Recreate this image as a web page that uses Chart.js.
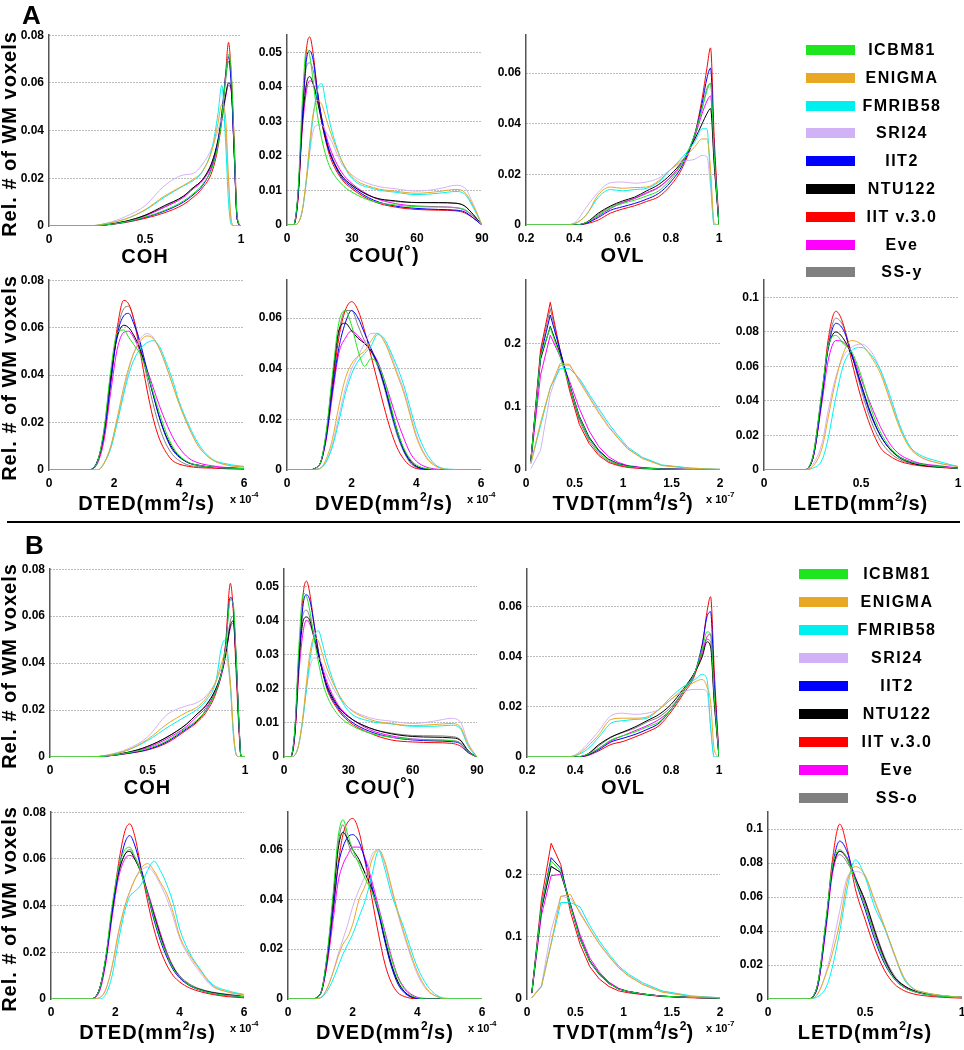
<!DOCTYPE html>
<html>
<head>
<meta charset="utf-8">
<script src="https://cdn.jsdelivr.net/npm/chart.js@4.4.1/dist/chart.umd.min.js"></script>
<style>
  body { margin: 0; background: #fff; }
  #fig { position: relative; width: 964px; height: 1050px; overflow: hidden; background: #fff;
         font-family: "Liberation Sans", Arial, sans-serif; color: #000; }
  #fig canvas { position: absolute; }
  .lbl { position: absolute; font-weight: bold; white-space: nowrap; }
  .xt { font-size: 20px; line-height: 24px; text-align: center; letter-spacing: 1px; }
  .xt sup { font-size: 12px; vertical-align: baseline; position: relative; top: -9px; letter-spacing: 0; }
  .yt { font-size: 20px; line-height: 24px; width: 220px; text-align: center; letter-spacing: 1px; transform: rotate(-90deg); }
  .ex { font-size: 11px; line-height: 14px; }
  .ex sup { font-size: 8px; vertical-align: baseline; position: relative; top: -6px; }
  .sec { font-size: 26px; line-height: 30px; }
  .lg { font-size: 16px; line-height: 20px; letter-spacing: 1.5px; width: 120px; text-align: center; }
  .sw { position: absolute; width: 49px; height: 10px; }
</style>
</head>
<body>
<div id="fig"></div>
<script>
// series order used by every y table below
const seriesA = ["ICBM81", "ENIGMA", "FMRIB58", "SRI24", "IIT2", "NTU122", "IIT v.3.0", "Eve", "SS-y"];
const seriesB = ["ICBM81", "ENIGMA", "FMRIB58", "SRI24", "IIT2", "NTU122", "IIT v.3.0", "Eve", "SS-o"];
const colors = ["#1ee61e", "#e8a824", "#00f0f0", "#d2b2f6", "#0000ff", "#000000", "#ff0000", "#ff00ff", "#808080"];

// tick labels
const cohTicks = [0, 0.5, 1];
const couTicks = [0, 30, 60, 90];
const ovlTicks = [0.2, 0.4, 0.6, 0.8, 1];
const dTicks = [0, 2, 4, 6];
const tvdtTicks = [0, 0.5, 1, 1.5, 2];
const letdTicks = [0, 0.5, 1];
const y08 = [0, 0.02, 0.04, 0.06, 0.08];
const y05 = [0, 0.01, 0.02, 0.03, 0.04, 0.05];
const y06 = [0, 0.02, 0.04, 0.06];
const y02 = [0, 0.1, 0.2];
const y10 = [0, 0.02, 0.04, 0.06, 0.08, 0.1];

// ---- A ----
const cohA_x = [0, 0.2, 0.3, 0.4, 0.5, 0.6, 0.7, 0.75, 0.8, 0.85, 0.88, 0.9, 0.92, 0.935, 0.95, 0.965, 0.98, 1];
const cohA_y = [
  [0, 0, 0.0005, 0.0017, 0.0038, 0.0065, 0.0105, 0.0135, 0.0175, 0.0245, 0.034, 0.045, 0.062, 0.072, 0.064, 0.033, 0.004, 0],
  [0, 0, 0.001, 0.003, 0.0068, 0.0125, 0.017, 0.0195, 0.023, 0.032, 0.043, 0.051, 0.045, 0.02, 0.002, 0, 0, 0],
  [0, 0, 0.001, 0.003, 0.0066, 0.012, 0.0168, 0.019, 0.023, 0.033, 0.047, 0.059, 0.035, 0.01, 0.0005, 0, 0, 0],
  [0, 0, 0.0012, 0.004, 0.0085, 0.0168, 0.0214, 0.022, 0.026, 0.033, 0.04, 0.045, 0.04, 0.018, 0.002, 0, 0, 0],
  [0, 0, 0.0005, 0.0017, 0.0036, 0.0062, 0.01, 0.013, 0.017, 0.025, 0.035, 0.047, 0.063, 0.071, 0.058, 0.03, 0.003, 0],
  [0, 0, 0.0006, 0.002, 0.0045, 0.0085, 0.0125, 0.016, 0.0195, 0.027, 0.036, 0.045, 0.055, 0.06, 0.057, 0.03, 0.003, 0],
  [0, 0, 0.0005, 0.0015, 0.0032, 0.0055, 0.009, 0.012, 0.016, 0.023, 0.033, 0.045, 0.064, 0.077, 0.062, 0.035, 0.004, 0],
  [0, 0, 0.0005, 0.0018, 0.0042, 0.0078, 0.012, 0.0155, 0.019, 0.026, 0.035, 0.044, 0.054, 0.059, 0.056, 0.03, 0.003, 0],
  [0, 0, 0.0006, 0.002, 0.0045, 0.008, 0.0125, 0.016, 0.0195, 0.027, 0.036, 0.047, 0.061, 0.069, 0.06, 0.03, 0.003, 0]
];
const couA_x = [0, 3, 5, 7, 9, 10.5, 12, 14, 16, 18, 20, 25, 30, 40, 50, 60, 70, 78, 82, 86, 90];
const couA_y = [
  [0, 0, 0.009, 0.035, 0.051, 0.049, 0.042, 0.032, 0.025, 0.02, 0.0165, 0.012, 0.0095, 0.0068, 0.0058, 0.0053, 0.0052, 0.005, 0.0045, 0.0025, 0],
  [0, 0, 0.0005, 0.004, 0.014, 0.024, 0.032, 0.036, 0.035, 0.031, 0.027, 0.019, 0.014, 0.0108, 0.0098, 0.0092, 0.0097, 0.0103, 0.0095, 0.0055, 0],
  [0, 0, 0.0005, 0.004, 0.013, 0.022, 0.031, 0.039, 0.041, 0.035, 0.029, 0.019, 0.0135, 0.0105, 0.0095, 0.0088, 0.0092, 0.0097, 0.009, 0.005, 0],
  [0, 0, 0.0005, 0.004, 0.013, 0.021, 0.027, 0.029, 0.029, 0.027, 0.025, 0.018, 0.0145, 0.0115, 0.0105, 0.0098, 0.0105, 0.0115, 0.0108, 0.006, 0],
  [0, 0, 0.008, 0.031, 0.048, 0.0505, 0.048, 0.039, 0.031, 0.025, 0.0205, 0.014, 0.011, 0.0072, 0.0055, 0.0048, 0.0045, 0.0043, 0.0038, 0.002, 0],
  [0, 0, 0.008, 0.029, 0.041, 0.043, 0.041, 0.036, 0.03, 0.0245, 0.0205, 0.0145, 0.0115, 0.008, 0.007, 0.0065, 0.0065, 0.0063, 0.0055, 0.003, 0],
  [0, 0, 0.007, 0.03, 0.051, 0.0545, 0.05, 0.039, 0.03, 0.024, 0.0195, 0.0135, 0.0105, 0.0068, 0.0052, 0.0045, 0.0043, 0.0041, 0.0035, 0.002, 0],
  [0, 0, 0.007, 0.027, 0.039, 0.0418, 0.041, 0.037, 0.031, 0.026, 0.022, 0.0155, 0.012, 0.008, 0.0062, 0.0055, 0.0053, 0.005, 0.0043, 0.0025, 0],
  [0, 0, 0.008, 0.03, 0.046, 0.047, 0.045, 0.038, 0.031, 0.025, 0.021, 0.0145, 0.0115, 0.008, 0.0068, 0.0065, 0.0064, 0.0063, 0.0055, 0.003, 0]
];
const ovlA_x = [0.2, 0.35, 0.4, 0.45, 0.5, 0.55, 0.6, 0.65, 0.7, 0.75, 0.8, 0.85, 0.9, 0.93, 0.95, 0.965, 0.98, 1];
const ovlA_y = [
  [0, 0, 0, 0.001, 0.0038, 0.0068, 0.0085, 0.0098, 0.0115, 0.0135, 0.018, 0.025, 0.036, 0.046, 0.053, 0.056, 0.028, 0],
  [0, 0, 0.0005, 0.004, 0.012, 0.015, 0.0145, 0.0148, 0.015, 0.0175, 0.022, 0.026, 0.031, 0.034, 0.034, 0.022, 0.001, 0],
  [0, 0, 0.0005, 0.004, 0.011, 0.014, 0.0135, 0.014, 0.0145, 0.017, 0.022, 0.027, 0.033, 0.038, 0.038, 0.018, 0, 0],
  [0, 0, 0.0008, 0.007, 0.013, 0.0167, 0.017, 0.0165, 0.017, 0.0185, 0.022, 0.025, 0.026, 0.0275, 0.027, 0.015, 0, 0],
  [0, 0, 0, 0.0007, 0.003, 0.0058, 0.0072, 0.0085, 0.0102, 0.0125, 0.017, 0.024, 0.036, 0.048, 0.058, 0.062, 0.03, 0],
  [0, 0, 0, 0.001, 0.0047, 0.0075, 0.0095, 0.011, 0.0135, 0.016, 0.02, 0.0255, 0.034, 0.04, 0.044, 0.046, 0.024, 0],
  [0, 0, 0, 0.0005, 0.002, 0.0047, 0.0063, 0.0076, 0.0093, 0.0112, 0.0157, 0.023, 0.036, 0.05, 0.062, 0.07, 0.035, 0],
  [0, 0, 0, 0.0008, 0.0035, 0.0065, 0.0088, 0.0105, 0.0128, 0.015, 0.019, 0.025, 0.035, 0.044, 0.049, 0.051, 0.026, 0],
  [0, 0, 0, 0.001, 0.0042, 0.0072, 0.009, 0.0105, 0.0125, 0.0148, 0.019, 0.025, 0.036, 0.046, 0.054, 0.056, 0.028, 0]
];
const dtedA_x = [0, 1.2, 1.5, 1.7, 1.9, 2.1, 2.3, 2.45, 2.6, 2.8, 3.0, 3.2, 3.4, 3.6, 3.8, 4.0, 4.3, 4.6, 5.0, 5.5, 6.0];
const dtedA_y = [
  [0, 0, 0.004, 0.018, 0.042, 0.058, 0.059, 0.056, 0.053, 0.049, 0.042, 0.033, 0.024, 0.016, 0.01, 0.0062, 0.0032, 0.002, 0.0012, 0.0008, 0.0006],
  [0, 0, 0, 0.003, 0.01, 0.022, 0.035, 0.043, 0.049, 0.054, 0.0565, 0.0555, 0.051, 0.044, 0.036, 0.028, 0.018, 0.01, 0.0045, 0.002, 0.0012],
  [0, 0, 0, 0.003, 0.009, 0.02, 0.032, 0.04, 0.046, 0.051, 0.0535, 0.0545, 0.052, 0.0455, 0.038, 0.029, 0.019, 0.011, 0.0048, 0.0025, 0.0015],
  [0, 0, 0, 0.003, 0.01, 0.021, 0.033, 0.042, 0.049, 0.055, 0.0575, 0.056, 0.051, 0.044, 0.036, 0.028, 0.018, 0.01, 0.0045, 0.002, 0.0012],
  [0, 0, 0.004, 0.016, 0.037, 0.057, 0.065, 0.066, 0.062, 0.054, 0.043, 0.032, 0.022, 0.014, 0.0085, 0.0055, 0.003, 0.002, 0.0012, 0.0008, 0.0006],
  [0, 0, 0.004, 0.017, 0.04, 0.056, 0.061, 0.06, 0.057, 0.051, 0.042, 0.032, 0.022, 0.0145, 0.0092, 0.0058, 0.003, 0.002, 0.0012, 0.0008, 0.0006],
  [0, 0, 0.004, 0.015, 0.038, 0.06, 0.0715, 0.07, 0.064, 0.05, 0.035, 0.022, 0.013, 0.0075, 0.004, 0.0025, 0.0015, 0.001, 0.0008, 0.0005, 0.0003],
  [0, 0, 0.003, 0.013, 0.033, 0.051, 0.058, 0.0585, 0.056, 0.05, 0.043, 0.035, 0.027, 0.02, 0.014, 0.0095, 0.005, 0.003, 0.0018, 0.001, 0.0006],
  [0, 0, 0.004, 0.015, 0.037, 0.058, 0.068, 0.069, 0.064, 0.053, 0.04, 0.028, 0.018, 0.011, 0.0065, 0.004, 0.002, 0.0015, 0.001, 0.0008, 0.0005]
];
const dvedA_x = [0, 0.6, 1.0, 1.2, 1.4, 1.6, 1.8, 2.0, 2.2, 2.4, 2.6, 2.8, 3.0, 3.2, 3.4, 3.6, 3.8, 4.0, 4.3, 4.6, 5.0, 6.0];
const dvedA_y = [
  [0, 0, 0.002, 0.014, 0.037, 0.058, 0.063, 0.057, 0.047, 0.041, 0.044, 0.042, 0.036, 0.026, 0.016, 0.009, 0.0045, 0.002, 0.0006, 0.0002, 0, 0],
  [0, 0, 0.0005, 0.004, 0.012, 0.025, 0.036, 0.042, 0.045, 0.047, 0.051, 0.054, 0.051, 0.045, 0.038, 0.031, 0.022, 0.013, 0.005, 0.0015, 0.0002, 0],
  [0, 0, 0.0005, 0.003, 0.009, 0.019, 0.03, 0.038, 0.043, 0.046, 0.049, 0.0535, 0.052, 0.047, 0.041, 0.034, 0.025, 0.016, 0.007, 0.002, 0.0003, 0],
  [0, 0, 0.0005, 0.003, 0.01, 0.021, 0.032, 0.04, 0.045, 0.05, 0.054, 0.054, 0.051, 0.046, 0.039, 0.032, 0.023, 0.014, 0.0055, 0.0018, 0.0003, 0],
  [0, 0, 0.002, 0.012, 0.031, 0.048, 0.058, 0.063, 0.06, 0.054, 0.048, 0.042, 0.034, 0.024, 0.015, 0.008, 0.0035, 0.0013, 0.0003, 0, 0, 0],
  [0, 0, 0.002, 0.013, 0.035, 0.055, 0.058, 0.055, 0.052, 0.05, 0.047, 0.042, 0.034, 0.025, 0.016, 0.0085, 0.004, 0.0015, 0.0004, 0, 0, 0],
  [0, 0, 0.002, 0.012, 0.032, 0.052, 0.063, 0.0665, 0.063, 0.055, 0.045, 0.035, 0.025, 0.016, 0.009, 0.0045, 0.0018, 0.0006, 0.0002, 0, 0, 0],
  [0, 0, 0.002, 0.011, 0.029, 0.046, 0.052, 0.055, 0.053, 0.05, 0.047, 0.043, 0.036, 0.028, 0.02, 0.013, 0.007, 0.0035, 0.0012, 0.0004, 0, 0],
  [0, 0, 0.002, 0.013, 0.034, 0.054, 0.063, 0.063, 0.057, 0.051, 0.047, 0.041, 0.033, 0.023, 0.014, 0.0075, 0.003, 0.001, 0.0003, 0, 0, 0]
];
const tvdtA_x = [0.05, 0.15, 0.25, 0.35, 0.45, 0.55, 0.65, 0.75, 0.85, 0.95, 1.05, 1.2, 1.4, 1.7, 2.0];
const tvdtA_y = [
  [0.015, 0.18, 0.225, 0.18, 0.132, 0.083, 0.05, 0.029, 0.016, 0.009, 0.0055, 0.003, 0.0015, 0.0008, 0.0003],
  [0.01, 0.075, 0.13, 0.168, 0.167, 0.14, 0.115, 0.09, 0.068, 0.05, 0.033, 0.018, 0.007, 0.0025, 0.001],
  [0.01, 0.07, 0.13, 0.16, 0.16, 0.145, 0.12, 0.097, 0.074, 0.054, 0.036, 0.02, 0.008, 0.003, 0.001],
  [0.002, 0.031, 0.12, 0.165, 0.165, 0.143, 0.117, 0.093, 0.07, 0.051, 0.034, 0.019, 0.0075, 0.003, 0.001],
  [0.015, 0.18, 0.245, 0.19, 0.133, 0.082, 0.05, 0.03, 0.017, 0.009, 0.006, 0.003, 0.0015, 0.0008, 0.0003],
  [0.015, 0.175, 0.227, 0.185, 0.134, 0.085, 0.052, 0.031, 0.017, 0.01, 0.006, 0.003, 0.0015, 0.0008, 0.0003],
  [0.015, 0.19, 0.265, 0.19, 0.125, 0.072, 0.042, 0.023, 0.012, 0.007, 0.004, 0.002, 0.001, 0.0005, 0],
  [0.012, 0.15, 0.213, 0.18, 0.14, 0.097, 0.062, 0.037, 0.021, 0.012, 0.007, 0.004, 0.002, 0.001, 0.0003],
  [0.015, 0.185, 0.255, 0.19, 0.13, 0.078, 0.046, 0.026, 0.014, 0.008, 0.005, 0.003, 0.0015, 0.0008, 0.0003]
];
const letdA_x = [0, 0.2, 0.25, 0.3, 0.33, 0.37, 0.41, 0.45, 0.5, 0.55, 0.6, 0.65, 0.7, 0.75, 0.8, 0.9, 1.0];
const letdA_y = [
  [0, 0, 0.007, 0.047, 0.071, 0.078, 0.073, 0.069, 0.055, 0.036, 0.022, 0.013, 0.0075, 0.005, 0.0035, 0.002, 0.001],
  [0, 0, 0.002, 0.013, 0.03, 0.052, 0.068, 0.075, 0.073, 0.066, 0.056, 0.04, 0.024, 0.013, 0.008, 0.004, 0.002],
  [0, 0, 0.001, 0.006, 0.018, 0.042, 0.061, 0.069, 0.071, 0.067, 0.058, 0.043, 0.026, 0.014, 0.009, 0.005, 0.002],
  [0, 0, 0.003, 0.016, 0.034, 0.054, 0.066, 0.071, 0.073, 0.069, 0.058, 0.041, 0.025, 0.014, 0.008, 0.004, 0.002],
  [0, 0, 0.006, 0.043, 0.07, 0.085, 0.081, 0.068, 0.049, 0.032, 0.02, 0.012, 0.0075, 0.005, 0.0035, 0.002, 0.001],
  [0, 0, 0.007, 0.046, 0.07, 0.08, 0.076, 0.067, 0.05, 0.033, 0.02, 0.012, 0.007, 0.0045, 0.003, 0.0018, 0.001],
  [0, 0, 0.006, 0.044, 0.075, 0.092, 0.084, 0.064, 0.042, 0.025, 0.013, 0.008, 0.005, 0.0035, 0.0025, 0.0015, 0.0008],
  [0, 0, 0.006, 0.04, 0.063, 0.075, 0.074, 0.068, 0.053, 0.038, 0.025, 0.015, 0.009, 0.006, 0.004, 0.0025, 0.0012],
  [0, 0, 0.006, 0.044, 0.072, 0.088, 0.083, 0.068, 0.047, 0.029, 0.017, 0.01, 0.006, 0.004, 0.003, 0.0018, 0.001]
];

// ---- B ----
const cohB_x = [0, 0.2, 0.3, 0.4, 0.5, 0.6, 0.7, 0.75, 0.8, 0.85, 0.88, 0.9, 0.925, 0.94, 0.955, 0.97, 0.98, 1];
const cohB_y = [
  [0, 0, 0.0005, 0.0018, 0.0036, 0.007, 0.0125, 0.0155, 0.02, 0.028, 0.036, 0.046, 0.067, 0.065, 0.042, 0.013, 0, 0],
  [0, 0, 0.0008, 0.003, 0.0075, 0.014, 0.019, 0.021, 0.025, 0.032, 0.04, 0.045, 0.032, 0.012, 0.001, 0, 0, 0],
  [0, 0, 0.0008, 0.003, 0.007, 0.0125, 0.0175, 0.02, 0.024, 0.032, 0.047, 0.05, 0.03, 0.01, 0.001, 0, 0, 0],
  [0, 0, 0.001, 0.0035, 0.0085, 0.018, 0.0218, 0.023, 0.026, 0.032, 0.038, 0.042, 0.03, 0.01, 0.001, 0, 0, 0],
  [0, 0, 0.0005, 0.0016, 0.0032, 0.0065, 0.012, 0.015, 0.02, 0.028, 0.036, 0.047, 0.068, 0.064, 0.04, 0.012, 0, 0],
  [0, 0, 0.0006, 0.002, 0.0045, 0.0085, 0.014, 0.018, 0.022, 0.029, 0.036, 0.043, 0.056, 0.058, 0.04, 0.012, 0, 0],
  [0, 0, 0.0005, 0.0015, 0.003, 0.006, 0.0115, 0.0145, 0.019, 0.027, 0.036, 0.048, 0.074, 0.062, 0.035, 0.01, 0, 0],
  [0, 0, 0.0005, 0.0018, 0.004, 0.0078, 0.013, 0.017, 0.021, 0.028, 0.035, 0.043, 0.055, 0.057, 0.04, 0.012, 0, 0],
  [0, 0, 0.0006, 0.002, 0.0045, 0.0085, 0.014, 0.018, 0.022, 0.029, 0.036, 0.044, 0.058, 0.06, 0.042, 0.013, 0, 0]
];
const couB_x = [0, 3, 5, 7, 9, 10.5, 12, 14, 16, 18, 20, 25, 30, 40, 50, 60, 70, 78, 82, 86, 90];
const couB_y = [
  [0, 0, 0.008, 0.033, 0.048, 0.047, 0.043, 0.035, 0.028, 0.022, 0.018, 0.0125, 0.0098, 0.007, 0.0058, 0.0052, 0.005, 0.0048, 0.0042, 0.0015, 0],
  [0, 0, 0.0005, 0.004, 0.013, 0.022, 0.03, 0.035, 0.034, 0.03, 0.026, 0.019, 0.0145, 0.011, 0.0098, 0.0092, 0.0095, 0.0098, 0.009, 0.0035, 0],
  [0, 0, 0.0005, 0.004, 0.012, 0.02, 0.028, 0.035, 0.037, 0.033, 0.028, 0.019, 0.0135, 0.0105, 0.0097, 0.009, 0.009, 0.0093, 0.0085, 0.003, 0],
  [0, 0, 0.0005, 0.004, 0.012, 0.02, 0.026, 0.029, 0.029, 0.027, 0.024, 0.018, 0.0145, 0.0115, 0.0105, 0.0098, 0.0105, 0.0113, 0.0105, 0.004, 0],
  [0, 0, 0.007, 0.03, 0.045, 0.0475, 0.046, 0.039, 0.031, 0.025, 0.0205, 0.0145, 0.011, 0.0075, 0.0058, 0.005, 0.0047, 0.0045, 0.004, 0.0014, 0],
  [0, 0, 0.007, 0.028, 0.04, 0.041, 0.04, 0.035, 0.03, 0.025, 0.021, 0.015, 0.0118, 0.0085, 0.0068, 0.006, 0.0058, 0.0056, 0.005, 0.0017, 0],
  [0, 0, 0.006, 0.028, 0.048, 0.0515, 0.048, 0.039, 0.031, 0.025, 0.02, 0.014, 0.0105, 0.007, 0.005, 0.0044, 0.0042, 0.004, 0.0033, 0.0012, 0],
  [0, 0, 0.006, 0.025, 0.037, 0.04, 0.039, 0.035, 0.03, 0.026, 0.022, 0.0155, 0.012, 0.008, 0.0062, 0.0053, 0.005, 0.0048, 0.0042, 0.0015, 0],
  [0, 0, 0.007, 0.03, 0.042, 0.043, 0.041, 0.036, 0.03, 0.025, 0.021, 0.015, 0.0118, 0.0085, 0.007, 0.0063, 0.0062, 0.006, 0.0052, 0.0018, 0]
];
const ovlB_x = [0.2, 0.35, 0.4, 0.45, 0.5, 0.55, 0.6, 0.65, 0.7, 0.75, 0.8, 0.85, 0.9, 0.93, 0.95, 0.965, 0.98, 1];
const ovlB_y = [
  [0, 0, 0, 0.001, 0.0035, 0.0068, 0.0085, 0.01, 0.012, 0.014, 0.019, 0.026, 0.034, 0.043, 0.05, 0.049, 0.025, 0],
  [0, 0, 0.0005, 0.004, 0.009, 0.015, 0.0155, 0.0155, 0.016, 0.019, 0.023, 0.027, 0.03, 0.031, 0.028, 0.022, 0.003, 0],
  [0, 0, 0.0005, 0.003, 0.008, 0.0135, 0.0145, 0.015, 0.0155, 0.019, 0.024, 0.028, 0.031, 0.033, 0.031, 0.012, 0, 0],
  [0, 0, 0.0008, 0.005, 0.0105, 0.0165, 0.0175, 0.017, 0.0175, 0.019, 0.023, 0.026, 0.027, 0.027, 0.026, 0.012, 0, 0],
  [0, 0, 0, 0.0007, 0.003, 0.006, 0.0075, 0.009, 0.011, 0.0135, 0.019, 0.026, 0.034, 0.045, 0.056, 0.058, 0.03, 0],
  [0, 0, 0, 0.001, 0.005, 0.008, 0.01, 0.012, 0.0145, 0.017, 0.021, 0.027, 0.034, 0.04, 0.046, 0.044, 0.022, 0],
  [0, 0, 0, 0.0005, 0.0025, 0.005, 0.0062, 0.008, 0.01, 0.0125, 0.018, 0.025, 0.033, 0.044, 0.058, 0.064, 0.035, 0],
  [0, 0, 0, 0.0008, 0.0035, 0.0065, 0.0085, 0.0105, 0.0125, 0.015, 0.019, 0.026, 0.034, 0.042, 0.048, 0.049, 0.025, 0],
  [0, 0, 0, 0.001, 0.0045, 0.0078, 0.0098, 0.0115, 0.014, 0.016, 0.02, 0.026, 0.034, 0.041, 0.047, 0.046, 0.023, 0]
];
const dtedB_x = [0, 1.2, 1.5, 1.7, 1.9, 2.1, 2.3, 2.45, 2.6, 2.8, 3.0, 3.2, 3.4, 3.6, 3.8, 4.0, 4.3, 4.6, 5.0, 5.5, 6.0];
const dtedB_y = [
  [0, 0, 0.004, 0.018, 0.04, 0.056, 0.064, 0.065, 0.061, 0.054, 0.045, 0.035, 0.026, 0.019, 0.013, 0.0095, 0.006, 0.004, 0.0025, 0.0015, 0.001],
  [0, 0, 0.0005, 0.004, 0.014, 0.029, 0.04, 0.046, 0.051, 0.056, 0.058, 0.055, 0.05, 0.045, 0.037, 0.027, 0.019, 0.013, 0.006, 0.003, 0.0018],
  [0, 0, 0, 0.002, 0.01, 0.025, 0.038, 0.044, 0.046, 0.049, 0.055, 0.059, 0.055, 0.049, 0.041, 0.03, 0.02, 0.0135, 0.0065, 0.0035, 0.002],
  [0, 0, 0.0005, 0.004, 0.014, 0.028, 0.04, 0.046, 0.051, 0.055, 0.0566, 0.054, 0.049, 0.043, 0.035, 0.026, 0.018, 0.012, 0.0055, 0.003, 0.0015],
  [0, 0, 0.004, 0.017, 0.037, 0.055, 0.067, 0.07, 0.066, 0.056, 0.045, 0.034, 0.025, 0.018, 0.0125, 0.009, 0.0058, 0.004, 0.0025, 0.0015, 0.001],
  [0, 0, 0.004, 0.017, 0.038, 0.054, 0.062, 0.0632, 0.06, 0.054, 0.045, 0.036, 0.027, 0.019, 0.0135, 0.0095, 0.006, 0.0042, 0.0028, 0.0018, 0.001],
  [0, 0, 0.004, 0.017, 0.038, 0.058, 0.072, 0.075, 0.07, 0.056, 0.042, 0.03, 0.021, 0.0145, 0.01, 0.0073, 0.0048, 0.0033, 0.002, 0.001, 0.0005],
  [0, 0, 0.003, 0.015, 0.035, 0.052, 0.06, 0.0615, 0.06, 0.054, 0.046, 0.037, 0.028, 0.02, 0.0135, 0.0095, 0.006, 0.004, 0.0025, 0.0015, 0.001],
  [0, 0, 0.004, 0.017, 0.038, 0.054, 0.062, 0.064, 0.061, 0.055, 0.046, 0.037, 0.028, 0.02, 0.014, 0.01, 0.0065, 0.0045, 0.003, 0.002, 0.0012]
];
const dvedB_x = [0, 0.7, 1.0, 1.2, 1.4, 1.55, 1.7, 1.85, 2.0, 2.2, 2.4, 2.6, 2.8, 3.0, 3.2, 3.4, 3.6, 3.8, 4.0, 4.3, 4.6, 5.0, 6.0];
const dvedB_y = [
  [0, 0, 0.002, 0.017, 0.043, 0.065, 0.072, 0.066, 0.06, 0.054, 0.048, 0.043, 0.036, 0.026, 0.016, 0.0085, 0.004, 0.0015, 0.0005, 0, 0, 0, 0],
  [0, 0, 0.0005, 0.004, 0.011, 0.017, 0.022, 0.025, 0.03, 0.04, 0.046, 0.056, 0.06, 0.055, 0.045, 0.035, 0.026, 0.018, 0.011, 0.004, 0.001, 0, 0],
  [0, 0, 0.0005, 0.003, 0.008, 0.013, 0.018, 0.022, 0.026, 0.033, 0.04, 0.05, 0.0595, 0.052, 0.042, 0.035, 0.028, 0.02, 0.0128, 0.0055, 0.0015, 0.0002, 0],
  [0, 0, 0.0005, 0.004, 0.011, 0.018, 0.024, 0.03, 0.037, 0.044, 0.05, 0.058, 0.06, 0.054, 0.044, 0.034, 0.025, 0.017, 0.01, 0.0035, 0.001, 0, 0],
  [0, 0, 0.002, 0.015, 0.036, 0.053, 0.061, 0.065, 0.066, 0.063, 0.055, 0.045, 0.035, 0.023, 0.013, 0.006, 0.0025, 0.0008, 0.0002, 0, 0, 0, 0],
  [0, 0, 0.002, 0.016, 0.04, 0.06, 0.067, 0.064, 0.06, 0.056, 0.05, 0.044, 0.035, 0.024, 0.014, 0.007, 0.003, 0.001, 0.0003, 0, 0, 0, 0],
  [0, 0, 0.002, 0.014, 0.036, 0.054, 0.066, 0.071, 0.0725, 0.067, 0.054, 0.04, 0.026, 0.014, 0.0065, 0.0025, 0.001, 0.0003, 0, 0, 0, 0, 0],
  [0, 0, 0.002, 0.013, 0.032, 0.047, 0.054, 0.058, 0.061, 0.061, 0.056, 0.047, 0.037, 0.027, 0.017, 0.009, 0.0045, 0.002, 0.0007, 0.0002, 0, 0, 0],
  [0, 0, 0.002, 0.016, 0.041, 0.062, 0.07, 0.063, 0.058, 0.055, 0.05, 0.043, 0.034, 0.023, 0.013, 0.0065, 0.003, 0.001, 0.0003, 0, 0, 0, 0]
];
const tvdtB_x = [0.05, 0.15, 0.25, 0.35, 0.45, 0.55, 0.65, 0.75, 0.85, 0.95, 1.05, 1.2, 1.4, 1.7, 2.0];
const tvdtB_y = [
  [0.01, 0.15, 0.222, 0.205, 0.15, 0.097, 0.06, 0.04, 0.025, 0.016, 0.012, 0.008, 0.0045, 0.0025, 0.0015],
  [0.002, 0.02, 0.09, 0.165, 0.168, 0.137, 0.112, 0.088, 0.068, 0.05, 0.037, 0.023, 0.011, 0.004, 0.002],
  [0.002, 0.02, 0.088, 0.155, 0.155, 0.148, 0.118, 0.093, 0.072, 0.053, 0.04, 0.026, 0.013, 0.005, 0.002],
  [0.002, 0.022, 0.11, 0.165, 0.162, 0.14, 0.113, 0.089, 0.069, 0.051, 0.038, 0.024, 0.012, 0.0045, 0.002],
  [0.01, 0.15, 0.227, 0.21, 0.15, 0.096, 0.06, 0.039, 0.025, 0.016, 0.012, 0.008, 0.0045, 0.0025, 0.0015],
  [0.01, 0.145, 0.213, 0.203, 0.151, 0.098, 0.061, 0.04, 0.025, 0.016, 0.012, 0.008, 0.0045, 0.0025, 0.0015],
  [0.01, 0.16, 0.25, 0.216, 0.14, 0.088, 0.052, 0.032, 0.02, 0.013, 0.01, 0.007, 0.004, 0.002, 0.001],
  [0.009, 0.135, 0.198, 0.2, 0.153, 0.103, 0.066, 0.043, 0.027, 0.017, 0.012, 0.008, 0.0045, 0.0025, 0.0015],
  [0.01, 0.145, 0.213, 0.203, 0.152, 0.099, 0.062, 0.041, 0.026, 0.017, 0.012, 0.008, 0.0045, 0.0025, 0.0015]
];
const letdB_x = [0, 0.2, 0.25, 0.3, 0.33, 0.37, 0.41, 0.45, 0.5, 0.55, 0.6, 0.65, 0.7, 0.75, 0.8, 0.9, 1.0];
const letdB_y = [
  [0, 0, 0.006, 0.048, 0.077, 0.088, 0.082, 0.07, 0.055, 0.037, 0.022, 0.012, 0.007, 0.0045, 0.003, 0.0015, 0.0008],
  [0, 0, 0.002, 0.015, 0.026, 0.045, 0.07, 0.078, 0.073, 0.058, 0.043, 0.027, 0.013, 0.006, 0.004, 0.002, 0.001],
  [0, 0, 0.001, 0.007, 0.018, 0.04, 0.066, 0.082, 0.072, 0.054, 0.042, 0.027, 0.012, 0.006, 0.004, 0.002, 0.001],
  [0, 0, 0.002, 0.016, 0.03, 0.052, 0.072, 0.075, 0.072, 0.057, 0.042, 0.026, 0.012, 0.006, 0.004, 0.002, 0.001],
  [0, 0, 0.005, 0.045, 0.076, 0.093, 0.086, 0.07, 0.053, 0.035, 0.021, 0.012, 0.007, 0.0045, 0.003, 0.0015, 0.001],
  [0, 0, 0.006, 0.046, 0.075, 0.087, 0.082, 0.071, 0.058, 0.04, 0.024, 0.013, 0.008, 0.005, 0.0035, 0.0018, 0.001],
  [0, 0, 0.005, 0.046, 0.08, 0.103, 0.088, 0.065, 0.047, 0.03, 0.017, 0.009, 0.005, 0.003, 0.002, 0.001, 0.0005],
  [0, 0, 0.005, 0.042, 0.072, 0.087, 0.083, 0.072, 0.056, 0.038, 0.023, 0.013, 0.0075, 0.0048, 0.0033, 0.0017, 0.001],
  [0, 0, 0.006, 0.046, 0.074, 0.085, 0.08, 0.071, 0.058, 0.041, 0.025, 0.014, 0.008, 0.005, 0.0035, 0.0018, 0.001]
];

const fig = document.getElementById("fig");
const font = { family: "'Liberation Sans', Arial, sans-serif", size: 12, weight: "bold" };
const fmt = v => String(parseFloat(Number(v).toFixed(4)));

function addLabel(cls, html, css) {
  const d = document.createElement("div");
  d.className = "lbl " + cls;
  d.innerHTML = html;
  Object.assign(d.style, css);
  fig.appendChild(d);
  return d;
}

// box = plot area [left, top, right, bottom] in page pixels
function makePanel(p, names) {
  const [L, T, R, B] = p.box;
  const padL = 44, padT = 10, padR = 16, axH = 22;
  const w = padL + (R - L) + padR, h = padT + (B - T) + axH;
  const cv = document.createElement("canvas");
  cv.width = w; cv.height = h;
  Object.assign(cv.style, { left: (L - padL) + "px", top: (T - padT) + "px", width: w + "px", height: h + "px" });
  fig.appendChild(cv);

  new Chart(cv, {
    type: "line",
    data: {
      datasets: names.map((n, i) => ({
        label: n,
        data: p.x.map((xv, j) => ({ x: xv, y: p.y[i][j] })),
        borderColor: colors[i],
        borderWidth: 1,
        pointRadius: 0,
        fill: false,
        tension: 0,
        cubicInterpolationMode: p.straight ? "default" : "monotone"
      }))
    },
    options: {
      responsive: false,
      animation: false,
      devicePixelRatio: 1,
      layout: { padding: { top: padT, right: padR, left: 0, bottom: 0 }, autoPadding: false },
      plugins: { legend: { display: false }, tooltip: { enabled: false } },
      scales: {
        x: {
          type: "linear", min: p.xr[0], max: p.xr[1],
          grid: { display: false, drawTicks: false },
          border: { display: false },
          ticks: { font, color: "#000", padding: 6, maxRotation: 0, autoSkip: false, callback: fmt },
          afterBuildTicks: s => { s.ticks = p.xt.map(v => ({ value: v })); },
          afterFit: s => { s.height = axH; }
        },
        y: {
          min: 0, max: p.ymax,
          grid: { drawTicks: false, lineWidth: 1, color: c => (c.tick && c.tick.value === 0) ? "rgba(0,0,0,0)" : "#7a7a7a" },
          border: { display: true, color: "#555", width: 1.5, dash: [1, 2] },
          ticks: { font, color: "#000", padding: 5, autoSkip: false, callback: fmt },
          afterBuildTicks: s => { s.ticks = p.yt.map(v => ({ value: v })); },
          afterFit: s => { s.width = padL; }
        }
      }
    }
  });

  // axis title under the plot
  const off = p.row === 1 ? 30 : 33;
  addLabel("xt", p.title, { left: L + "px", width: (R - L) + "px", top: (B + off - 12) + "px" });
  if (p.exp) addLabel("ex", "x 10<sup>" + p.exp + "</sup>", { left: (R - 14) + "px", top: (B + 29 - 7) + "px" });
  if (p.ytitle) addLabel("yt", "Rel. # of WM voxels", { left: (9 - 110) + "px", top: ((T + B) / 2 + 4 - 12) + "px" });
}

function makeLegend(names, swX, txtX, y0, step) {
  names.forEach((n, i) => {
    const cy = y0 + i * step;
    const s = document.createElement("div");
    s.className = "sw";
    Object.assign(s.style, { left: swX + "px", top: Math.round(cy - 5) + "px", background: colors[i] });
    fig.appendChild(s);
    addLabel("lg", n, { left: (txtX - 60) + "px", top: Math.round(cy - 10) + "px" });
  });
}

const panelsA = [
  { box: [49, 33, 241, 226], x: cohA_x, y: cohA_y, xr: [0, 1], ymax: 0.08, xt: cohTicks, yt: y08, title: "COH", row: 1, ytitle: true },
  { box: [287, 33, 482, 225], x: couA_x, y: couA_y, xr: [0, 90], ymax: 0.055, xt: couTicks, yt: y05, title: "COU(˚)", row: 1 },
  { box: [526, 33, 719, 225], x: ovlA_x, y: ovlA_y, xr: [0.2, 1], ymax: 0.075, xt: ovlTicks, yt: y06, title: "OVL", row: 1 },
  { box: [49, 278, 244, 470], x: dtedA_x, y: dtedA_y, xr: [0, 6], ymax: 0.08, xt: dTicks, yt: y08, title: "DTED(mm<sup>2</sup>/s)", row: 2, exp: "-4", ytitle: true },
  { box: [287, 278, 481, 470], x: dvedA_x, y: dvedA_y, xr: [0, 6], ymax: 0.075, xt: dTicks, yt: y06, title: "DVED(mm<sup>2</sup>/s)", row: 2, exp: "-4" },
  { box: [526, 278, 720, 470], x: tvdtA_x, y: tvdtA_y, xr: [0, 2], ymax: 0.3, xt: tvdtTicks, yt: y02, title: "TVDT(mm<sup>4</sup>/s<sup>2</sup>)", row: 2, exp: "-7", straight: true },
  { box: [764, 278, 958, 470], x: letdA_x, y: letdA_y, xr: [0, 1], ymax: 0.11, xt: letdTicks, yt: y10, title: "LETD(mm<sup>2</sup>/s)", row: 2 }
];
const panelsB = [
  { box: [50, 567, 245, 757], x: cohB_x, y: cohB_y, xr: [0, 1], ymax: 0.08, xt: cohTicks, yt: y08, title: "COH", row: 1, ytitle: true },
  { box: [284, 567, 477, 757], x: couB_x, y: couB_y, xr: [0, 90], ymax: 0.055, xt: couTicks, yt: y05, title: "COU(˚)", row: 1 },
  { box: [527, 567, 719, 757], x: ovlB_x, y: ovlB_y, xr: [0.2, 1], ymax: 0.075, xt: ovlTicks, yt: y06, title: "OVL", row: 1 },
  { box: [51, 810, 244, 999], x: dtedB_x, y: dtedB_y, xr: [0, 6], ymax: 0.08, xt: dTicks, yt: y08, title: "DTED(mm<sup>2</sup>/s)", row: 2, exp: "-4", ytitle: true },
  { box: [288, 810, 482, 999], x: dvedB_x, y: dvedB_y, xr: [0, 6], ymax: 0.075, xt: dTicks, yt: y06, title: "DVED(mm<sup>2</sup>/s)", row: 2, exp: "-4" },
  { box: [527, 810, 720, 999], x: tvdtB_x, y: tvdtB_y, xr: [0, 2], ymax: 0.3, xt: tvdtTicks, yt: y02, title: "TVDT(mm<sup>4</sup>/s<sup>2</sup>)", row: 2, exp: "-7", straight: true },
  { box: [768, 810, 962, 999], x: letdB_x, y: letdB_y, xr: [0, 1], ymax: 0.11, xt: letdTicks, yt: y10, title: "LETD(mm<sup>2</sup>/s)", row: 2 }
];

panelsA.forEach(p => makePanel(p, seriesA));
panelsB.forEach(p => makePanel(p, seriesB));

makeLegend(seriesA, 806, 902, 50, 27.8);
makeLegend(seriesB, 799, 897, 574, 28);

addLabel("sec", "A", { left: "22px", top: "0px" });
addLabel("sec", "B", { left: "25px", top: "530px" });

const rule = document.createElement("div");
Object.assign(rule.style, { position: "absolute", left: "7px", top: "521px", width: "953px", height: "2px", background: "#000" });
fig.appendChild(rule);
</script>
</body>
</html>
